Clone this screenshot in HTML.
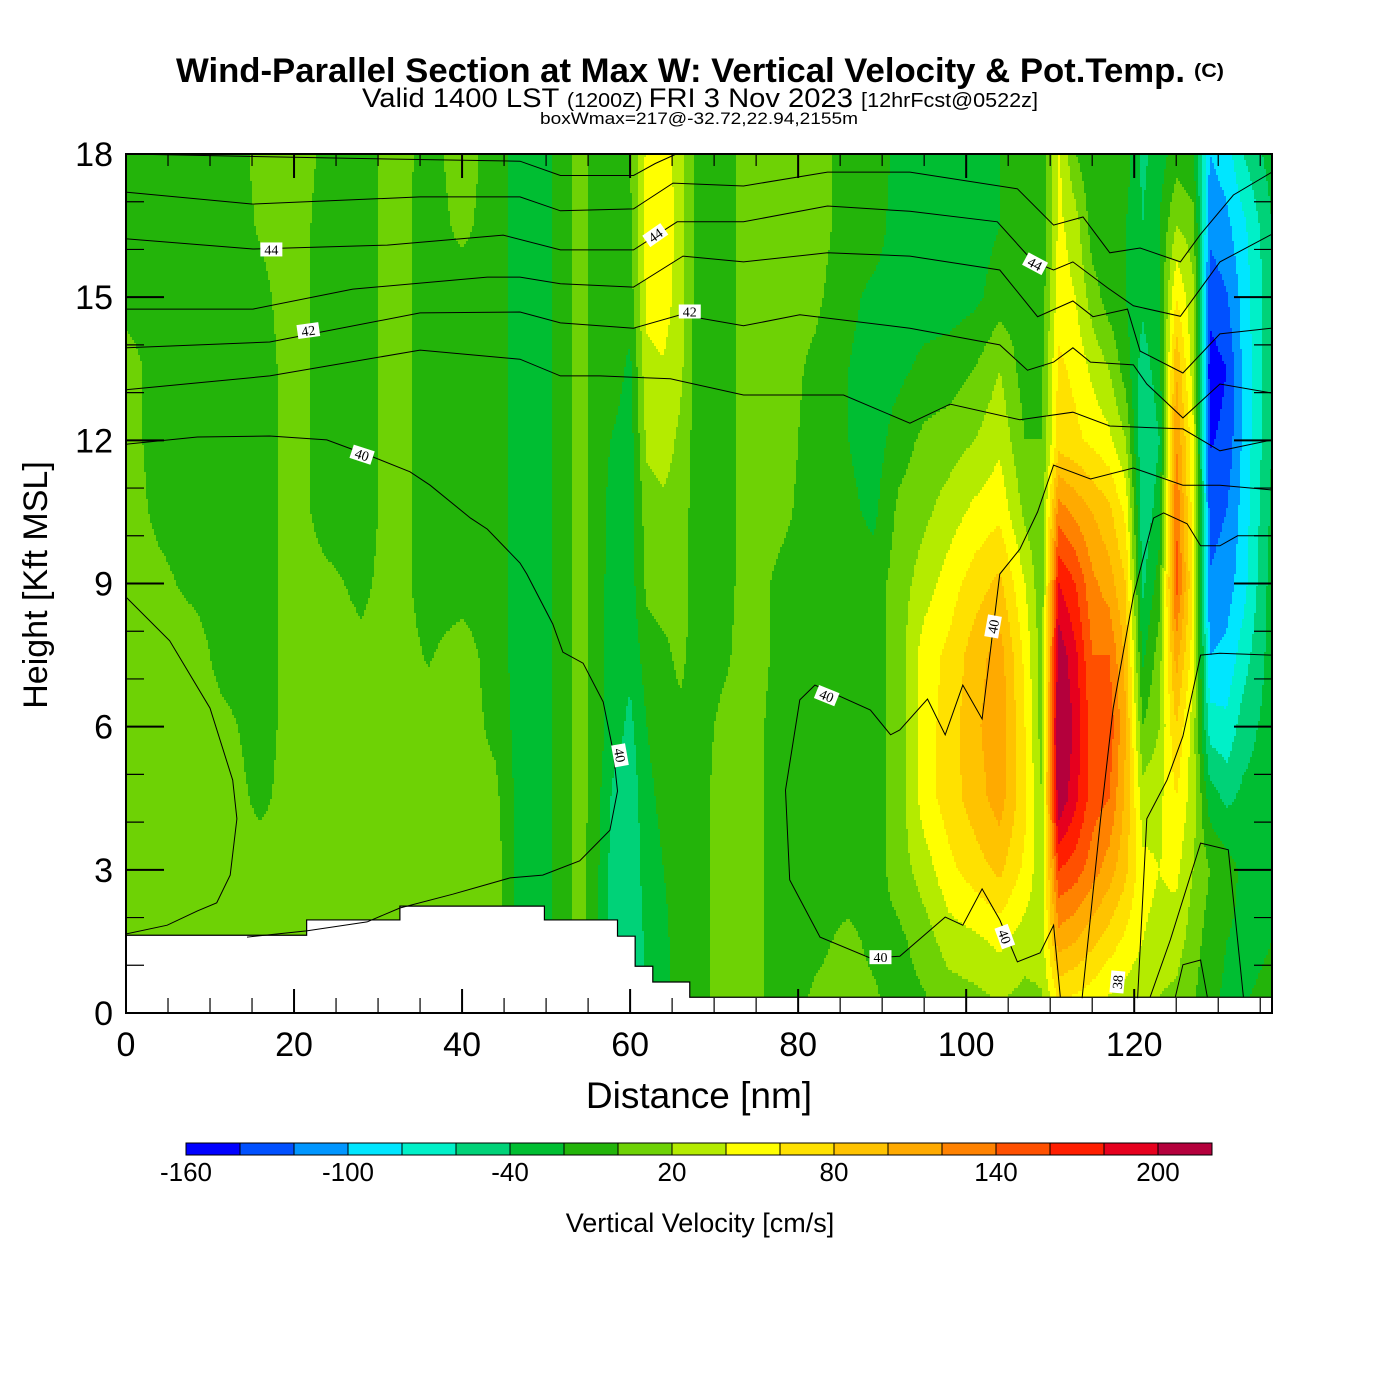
<!DOCTYPE html>
<html><head><meta charset="utf-8">
<style>
html,body{margin:0;padding:0;background:#fff;}
svg{display:block;}
text{font-family:"Liberation Sans",Arial,sans-serif;fill:#000;}
.lbl{font-family:"Liberation Serif",serif;font-size:14px;}
</style></head>
<body>
<svg id="chart" width="1400" height="1400" viewBox="0 0 1400 1400" xmlns="http://www.w3.org/2000/svg">
<rect width="1400" height="1400" fill="#fff"/>
<g>
<text x="176" y="82" font-size="34" font-weight="bold" textLength="1009" lengthAdjust="spacingAndGlyphs">Wind-Parallel Section at Max W: Vertical Velocity &amp; Pot.Temp.</text>
<text x="1194" y="77" font-size="19" font-weight="bold" textLength="30" lengthAdjust="spacingAndGlyphs">(C)</text>
<text x="362" y="107" textLength="676" lengthAdjust="spacingAndGlyphs"><tspan font-size="27">Valid 1400 LST </tspan><tspan font-size="20">(1200Z) </tspan><tspan font-size="27">FRI 3 Nov 2023 </tspan><tspan font-size="20">[12hrFcst@0522z]</tspan></text>
<text x="540" y="124" font-size="17" textLength="318" lengthAdjust="spacingAndGlyphs">boxWmax=217@-32.72,22.94,2155m</text>
</g>
<g id="field"></g>
<g id="terrain"></g>
<g id="contours"></g>
<g id="axes"></g>
<g id="cbar"></g>
</svg>
<script>
// ---- data ----
const dist_nm = [0,4,8,12,16,20,24,28,32,36,40,44,47,50,52,54,56,58,60,62,64,66,68,71,74,78,82,86,89,92,95,98,101,104,107,109,111,113,115,117,119,121,123,125,127,129,131,133,136.4];
const height_kft = [0,1.5,3,4.5,6,7.5,9,10.5,12,13.5,15,16.5,18];
// vertical velocity (cm/s), one column per distance, bottom -> top
const w_cm_s = [
[10,10,10,10,10,10,10,10,10,10,-8,-10,-10],
[10,10,10,10,10,10,5,-5,-10,-10,-10,-10,-10],
[10,10,10,10,10,10,-5,-10,-10,-10,-10,-10,-10],
[10,10,10,10,5,-10,-10,-10,-10,-10,-10,-10,-10],
[10,10,10,-5,-10,-10,-10,-10,-10,-10,-5,2,5],
[10,10,10,10,10,10,10,10,10,10,10,10,10],
[10,10,10,10,10,10,5,-10,-10,-10,-10,-10,-5],
[10,10,10,10,10,5,-5,-10,-10,-10,-10,-10,-10],
[10,10,10,10,10,10,10,10,10,10,10,10,10],
[10,10,10,10,10,-2,-10,-10,-10,-10,-10,-10,-8],
[10,10,10,10,10,10,-10,-10,-10,-10,-10,5,10],
[10,10,10,5,-5,-10,-10,-10,-10,-10,-10,-10,-10],
[-30,-30,-30,-30,-30,-30,-30,-30,-30,-30,-30,-30,-30],
[-25,-25,-25,-25,-25,-25,-25,-25,-25,-25,-25,-25,-25],
[-10,-10,-10,-10,-10,-10,-10,-10,-10,-10,-10,-10,-10],
[10,10,10,10,10,10,10,10,10,10,10,10,10],
[-15,-15,-15,-12,-10,-10,-10,-10,-10,-10,-10,-10,-10],
[-55,-55,-50,-45,-30,-30,-30,-28,-22,-10,-10,-10,-10],
[-60,-60,-55,-55,-45,-35,-30,-30,-30,-25,-10,-5,0],
[-35,-35,-30,-25,-20,-10,5,10,25,35,45,50,45],
[-25,-25,-20,-15,-10,-5,10,15,30,38,50,55,50],
[-10,-10,-10,-10,-5,5,10,10,15,25,30,30,30],
[-10,-10,-10,-10,-10,-10,-10,-10,-10,-10,-10,-10,-10],
[10,10,10,10,5,-5,-10,-10,-10,-10,-10,-10,-10],
[10,10,10,10,10,10,10,10,10,10,10,10,10],
[-10,-10,-10,-10,-10,-5,-5,5,10,10,10,10,10],
[5,-5,-10,-10,-10,-10,-10,-10,-10,-5,5,10,10],
[10,5,-10,-10,-10,-10,-10,-15,-20,-20,-15,-10,-10],
[5,-5,-10,-10,-10,-10,-10,-25,-30,-30,-25,-10,-10],
[-10,-5,10,10,10,10,10,5,-10,-25,-30,-30,-25],
[-5,10,30,50,50,50,30,15,5,-15,-30,-30,-25],
[5,30,55,70,70,65,50,30,10,-10,-30,-30,-25],
[10,35,70,90,95,90,70,45,20,0,-25,-30,-25],
[15,45,85,110,115,110,85,55,35,20,-10,-20,-20],
[10,30,55,65,60,55,40,15,0,-10,-10,-15,-10],
[15,30,25,20,10,10,5,5,0,-5,-10,-20,-20],
[50,110,160,218,228,215,180,130,70,65,50,45,45],
[45,100,150,185,195,185,160,115,65,55,40,30,0],
[40,85,130,150,150,140,125,100,55,35,10,-10,-15],
[30,70,110,140,155,140,110,85,45,20,-10,-15,-10],
[25,55,85,95,100,95,80,55,20,-10,-20,-20,-10],
[20,40,45,30,0,-25,-45,-55,-60,-50,-35,-40,-45],
[15,35,40,35,20,10,-10,-30,-40,-30,-20,-20,-30],
[10,30,45,60,80,110,150,140,120,100,60,20,-10],
[0,10,20,30,30,50,60,50,45,30,25,10,-20],
[-15,-10,0,-30,-70,-100,-118,-128,-142,-150,-132,-115,-100],
[-25,-20,-10,-45,-75,-95,-110,-120,-135,-140,-122,-105,-90],
[-20,-25,-25,-35,-50,-70,-88,-92,-95,-95,-92,-85,-60],
[-15,-20,-25,-30,-30,-30,-30,-35,-40,-40,-45,-40,-30]
];
const level_min = -160, level_step = 20;
const level_colors = ["#0000ff","#0050ff","#0096ff","#00e6ff","#00f0c8","#00d278","#00be32","#23b40a","#6ed205","#b4eb00","#ffff00","#ffe100","#ffc300","#ffaa00","#ff8200","#ff5000","#ff1e00","#e6001e","#b4003c"];
const cbar_labels = [-160,-100,-40,20,80,140,200];
const x_ticks = [0,20,40,60,80,100,120];
const y_ticks = [0,3,6,9,12,15,18];
const terrain_x = [0,21.5,21.5,32.6,32.6,49.8,49.8,58.5,58.5,60.6,60.6,62.7,62.7,67.1,67.1,136.4];
const terrain_h = [1.63,1.63,1.95,1.95,2.24,2.24,1.95,1.95,1.61,1.61,0.98,0.98,0.65,0.65,0.33,0.33];
// potential temperature contours (nm, kft)
const theta_lines = [
[[0.1,18],[23.1,17.92],[46.9,17.85],[51.7,17.55],[60.4,17.55],[63,17.8],[65.5,18]],
[[0.1,17.2],[15.1,16.95],[35,17.1],[46.9,17.1],[51.7,16.81],[60.4,16.85],[65.1,17.39],[73.5,17.33],[83.5,17.62],[93.3,17.62],[106.1,17.27],[110.4,16.51],[113.9,16.68],[117.1,15.93],[120.7,16.03],[125.5,15.74],[127.9,16.32],[131.8,17.14],[136.4,17.62]],
[[0.1,16.22],[15.1,16.01],[31.1,16.09],[44.9,16.3],[51.7,15.99],[60.4,15.99],[65.6,16.58],[73.5,16.58],[83.5,16.91],[93.3,16.8],[103.7,16.58],[108,15.74],[110.4,15.57],[112.7,15.74],[116.8,15.2],[119.9,14.82],[125.5,14.6],[130.2,15.74],[136.4,16.32]],
[[0.1,14.75],[15.1,14.75],[27,15.17],[43,15.42],[46.9,15.42],[51.7,15.28],[60.4,15.21],[66.3,15.86],[73.5,15.74],[83.5,15.93],[93.3,15.86],[104,15.57],[108.5,14.59],[112.7,14.92],[115.1,14.59],[119.2,14.75],[120.7,13.87],[125.8,13.41],[130.2,14.23],[136.4,14.35]],
[[0.1,13.94],[17.1,14.06],[35,14.67],[46.9,14.69],[51.7,14.46],[60.4,14.35],[66,14.63],[73.5,14.4],[80.2,14.63],[93.3,14.35],[104,14.0],[107.3,13.47],[110.4,13.64],[112.7,13.94],[114.8,13.64],[119.9,13.58],[121.5,13.18],[125.8,12.47],[130.2,13.18],[136.4,12.99]],
[[0.1,13.06],[17.1,13.35],[35,13.89],[46.9,13.7],[51.7,13.35],[56.4,13.35],[64.8,13.29],[73.5,12.95],[85.4,12.95],[93.3,12.36],[98.1,12.76],[106.4,12.43],[112.7,12.59],[117.1,12.3],[125.8,12.24],[130.2,11.78],[136.4,12.01]],
[[0.1,11.92],[8.5,12.07],[17.1,12.09],[23.9,12.01],[29.4,11.65],[33.8,11.34],[36.2,11.06],[41,10.37],[43,10.14],[46.9,9.43],[47.7,9.2],[50.8,8.15],[52,7.56],[54.4,7.33],[56.8,6.52],[58,5.47],[58.5,4.65],[57.6,3.83],[54,3.19],[49.6,2.89],[45.7,2.83],[38.9,2.49],[32.6,2.2],[28.7,1.91],[21.5,1.72],[14.4,1.59]],
[[0.1,8.7],[5.2,7.8],[10,6.39],[12.7,4.88],[13.2,4.07],[12.4,2.89],[10.8,2.31],[8.5,2.14],[4.9,1.84],[0.1,1.66]],
[[111.2,0.34],[110.4,1.84],[108.8,1.26],[106.1,1.07],[104,1.95],[101.9,2.6],[99.6,1.84],[97.5,2.01],[92.1,1.19],[88.6,1.15],[82.6,1.59],[79,2.79],[78.5,4.67],[80.2,6.56],[82,6.87],[88.6,6.35],[91,5.83],[92.1,5.93],[95.4,6.58],[97.5,5.83],[99.6,6.87],[101.9,6.16],[104,9.2],[106.4,9.72],[108.5,10.5],[110.4,11.48],[114.8,11.19],[119.9,11.42],[125.8,11.06],[130.2,11.06],[136.4,10.96]],
[[113.8,0.31],[116,4.07],[117.5,6.39],[119.9,8.74],[122.3,10.37],[123.5,10.48],[126.3,10.25],[127.9,9.79],[130.2,9.79],[132.3,10.0],[136.4,10.0]],
[[120.4,0.31],[121.5,4.07],[123.9,4.88],[125.8,5.8],[127.9,7.5],[130.2,7.54],[136.4,7.5]],
[[121.9,0.34],[124.3,1.53],[127.9,3.56],[131.2,3.42],[133,0.34]],
[[124.9,0.34],[125.8,1.01],[127.9,1.11],[128.7,0.34]]
];
const theta_label_text = ["44","42","40","44","42","40","40","40","40","44","40","38"];
const theta_label_x = [17.3,21.7,28.1,63,67.1,58.8,83.4,89.8,103.2,108.2,104.6,118];
const theta_label_y = [16.0,14.3,11.7,16.3,14.7,5.4,6.65,1.17,8.1,15.7,1.6,0.65];
const theta_label_rot = [0,-8,18,-35,0,80,22,0,-80,28,70,-85];

// ---- axis functions ----
const X0=126, X1=1272, Y0=1013, Y1=154, XMAX=136.4, YMAX=18;
const xS = v => X0 + v*(X1-X0)/XMAX;
const yS = v => Y0 - v*(Y0-Y1)/YMAX;
const NS="http://www.w3.org/2000/svg";
function mk(tag, attrs, parent){const e=document.createElementNS(NS,tag);for(const k in attrs)e.setAttribute(k,attrs[k]);parent.appendChild(e);return e;}
function levelIndex(v){let b=Math.floor((v-level_min)/level_step);return Math.max(0,Math.min(level_colors.length-1,b));}
function sample(nm,k){
  let i=0; while(i<dist_nm.length-2 && nm>dist_nm[i+1]) i++;
  let tx=(nm-dist_nm[i])/(dist_nm[i+1]-dist_nm[i]); tx=Math.max(0,Math.min(1,tx));
  let fj=k/1.5; let j=Math.min(height_kft.length-2,Math.max(0,Math.floor(fj))); let ty=Math.max(0,Math.min(1,fj-j));
  const a=w_cm_s[i][j],b=w_cm_s[i+1][j],c=w_cm_s[i][j+1],d=w_cm_s[i+1][j+1];
  return (a*(1-tx)+b*tx)*(1-ty)+(c*(1-tx)+d*tx)*ty;
}
// ---- field ----
const field=document.getElementById('field');
const DX=2, DY=3;
for(let py=Y1; py<Y0; py+=DY){
  const h=Math.min(DY,Y0-py);
  const k=(Y0-(py+h/2))*YMAX/(Y0-Y1);
  let runStart=X0, runLev=null;
  for(let px=X0; px<=X1; px+=DX){
    let lev=null;
    if(px<X1){const nm=(px+DX/2-X0)*XMAX/(X1-X0); lev=levelIndex(sample(nm,k));}
    if(lev!==runLev){
      if(runLev!==null){
        const r=mk('rect',{x:runStart,y:py,width:Math.min(px,X1)-runStart,height:h+0.3,fill:level_colors[runLev]},field);
        
        
      }
      runStart=px; runLev=lev;
    }
  }
}
// ---- terrain ----
const tg=document.getElementById('terrain');
let tp=`M${xS(0)},${Y0} `; for(let i=0;i<terrain_x.length;i++) tp+=`L${xS(terrain_x[i])},${yS(terrain_h[i])} `; tp+=`L${X1},${Y0} Z`;
const terr=mk('path',{d:tp,fill:'#fff',stroke:'#000','stroke-width':1.2},tg);


// ---- contours ----
const cg=document.getElementById('contours');
theta_lines.forEach((ln)=>{
  const p=mk('polyline',{points:ln.map(q=>xS(q[0]).toFixed(1)+','+yS(q[1]).toFixed(1)).join(' '),fill:'none',stroke:'#000','stroke-width':1},cg);
  
  
});
theta_label_text.forEach((t,i)=>{
  const x=xS(theta_label_x[i]), y=yS(theta_label_y[i]);
  const g=mk('g',{transform:`translate(${x},${y}) rotate(${theta_label_rot[i]})`},cg);
  
  
  mk('rect',{x:-11,y:-7,width:22,height:14,fill:'#fff'},g);
  const tx=mk('text',{x:0,y:5,'text-anchor':'middle',class:'lbl'},g); tx.textContent=t;
});
// ---- axes ----
const ag=document.getElementById('axes');
const fr=mk('rect',{x:X0,y:Y1,width:X1-X0,height:Y0-Y1,fill:'none',stroke:'#000','stroke-width':2},ag);


for(let v=0; v<=135; v+=5){
  const major=v%20===0, x=xS(v);
  mk('line',{x1:x,y1:Y0,x2:x,y2:Y0-(major?24:15),stroke:'#000','stroke-width':major?2:1.2},ag);
  mk('line',{x1:x,y1:Y1,x2:x,y2:Y1+(major?24:12),stroke:'#000','stroke-width':major?2:1.2},ag);
}
for(let v=0; v<=18; v+=1){
  const major=v%3===0, y=yS(v);
  mk('line',{x1:X0,y1:y,x2:X0+(major?38:18),y2:y,stroke:'#000','stroke-width':major?2:1.2},ag);
  mk('line',{x1:X1,y1:y,x2:X1-(major?38:18),y2:y,stroke:'#000','stroke-width':major?2:1.2},ag);
}
x_ticks.forEach(v=>{
  const t=mk('text',{x:xS(v),y:1056,'font-size':34,'text-anchor':'middle'},ag); t.textContent=v;
  
  
});
y_ticks.forEach(v=>{
  const t=mk('text',{x:113,y:yS(v)+12,'font-size':34,'text-anchor':'end'},ag); t.textContent=v;
  
  
});
const xt=mk('text',{x:699,y:1108,'font-size':37,'text-anchor':'middle'},ag); xt.textContent='Distance [nm]';


const yt=mk('text',{x:0,y:0,'font-size':34,'text-anchor':'middle',transform:'translate(47,585) rotate(-90)'},ag); yt.textContent='Height [Kft MSL]';


// ---- colorbar ----
const cb=document.getElementById('cbar');
const CB0=186, CBW=54, CBY=1143, CBH=12;
const cbX = v => CB0 + (v-level_min)/level_step*CBW;
level_colors.forEach((c,i)=>{
  const r=mk('rect',{x:cbX(level_min+i*level_step),y:CBY,width:CBW,height:CBH,fill:c,stroke:'#000','stroke-width':1},cb);
  
  
});
cbar_labels.forEach(v=>{
  const t=mk('text',{x:cbX(v),y:1181,'font-size':26,'text-anchor':'middle'},cb); t.textContent=v;
  
  
});
const ct=mk('text',{x:700,y:1232,'font-size':27,'text-anchor':'middle'},cb); ct.textContent='Vertical Velocity [cm/s]';


</script>
</body></html>
